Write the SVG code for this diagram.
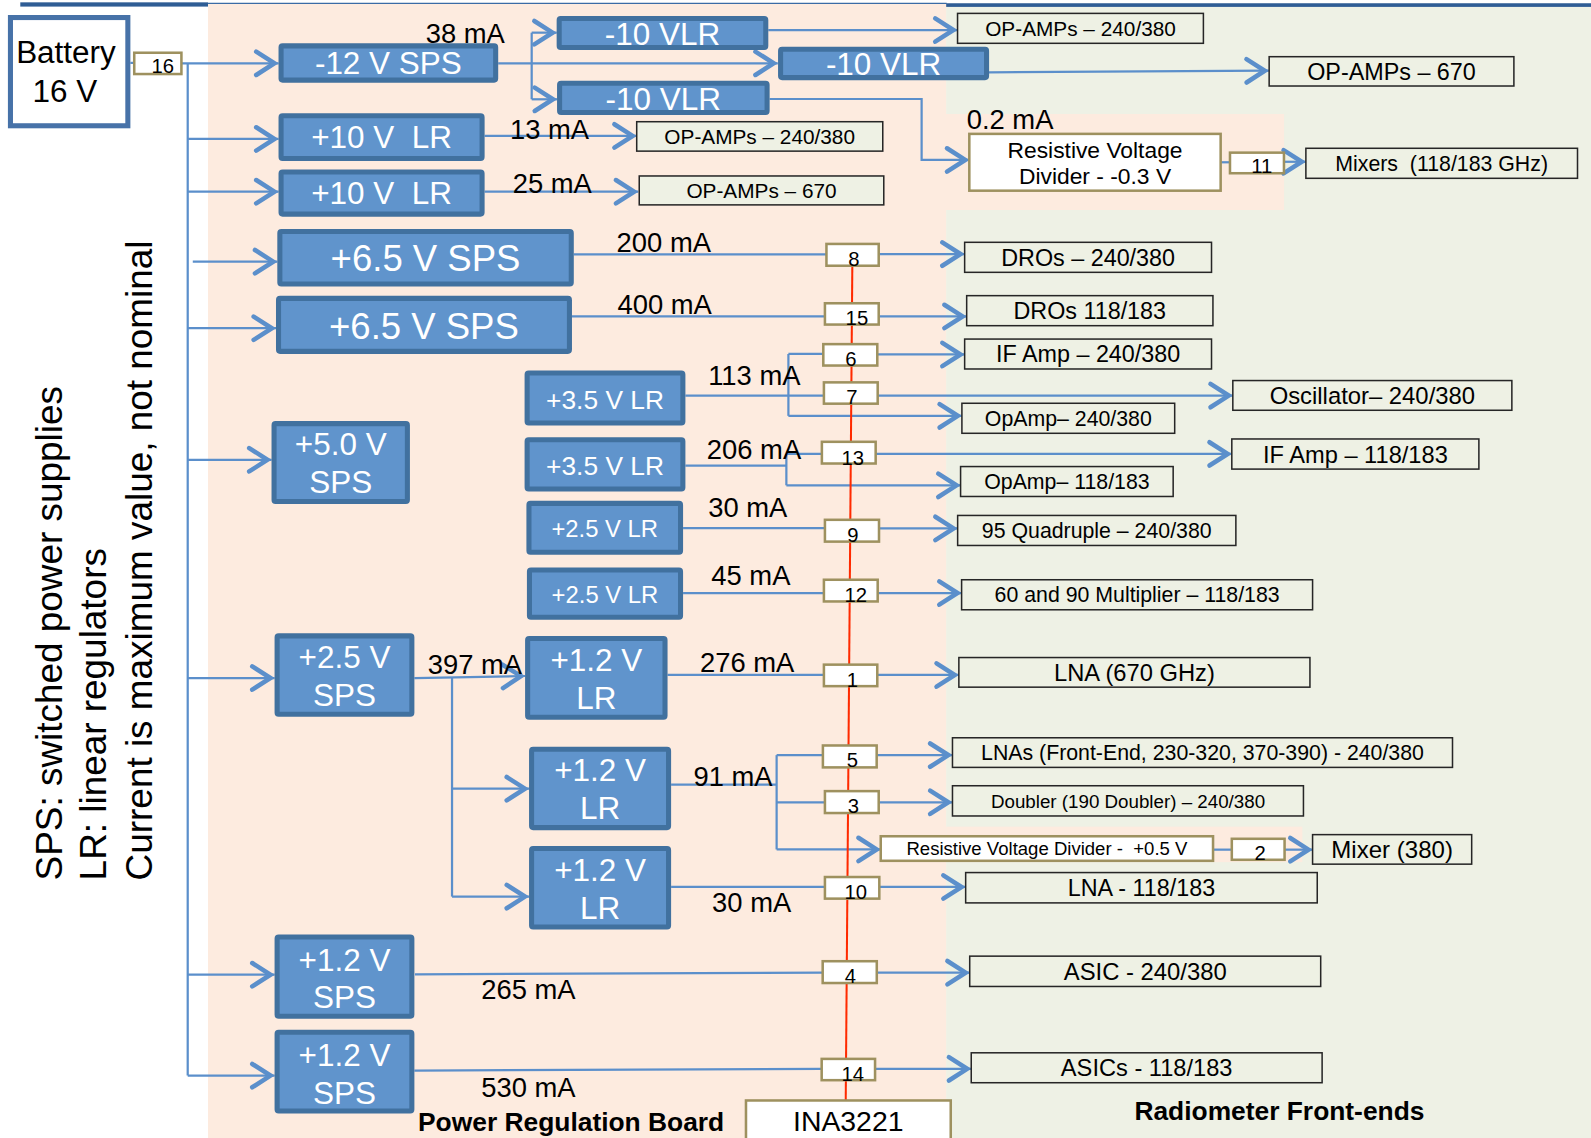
<svg xmlns="http://www.w3.org/2000/svg" width="1591" height="1138" viewBox="0 0 1591 1138">
<defs>
<style>
.bb{fill:#6094CC;stroke:#41719F;stroke-width:5;}
.w{fill:#fff;text-anchor:middle;}
.k{fill:#000;text-anchor:middle;}
.fe{fill:#EEF1E4;stroke:#262626;stroke-width:1.5;}
.tan{fill:#fff;stroke:#9E915F;stroke-width:2.5;}
.n{font-size:20px;fill:#000;text-anchor:middle;}
.m{font-size:27px;fill:#000;}
.c{fill:none;stroke:#5B8FCB;stroke-width:2.2;}
.a{marker-end:url(#ah);}
.pre{white-space:pre;}
</style>
<marker id="ah" markerUnits="userSpaceOnUse" viewBox="-26 -15 30 30" markerWidth="30" markerHeight="30" refX="0" refY="0" orient="auto" overflow="visible">
<path d="M-22,-11.5 L-4,0 L-22,11.5" fill="none" stroke="#5B8FCB" stroke-width="4.5" stroke-linejoin="miter" stroke-linecap="round"/>
</marker>
</defs>
<g transform="scale(1.01467,1.01426)" font-family="'Liberation Sans', Arial, Helvetica, sans-serif">
<g id="background">
<rect x="0" y="0" width="1568" height="1122" fill="#fff"/>
<rect x="205" y="4" width="728" height="1118" fill="#FDEBDF"/>
<rect x="932.5" y="6" width="635.5" height="1116" fill="#EEF1E5"/>
<rect x="932" y="112.4" width="333.5" height="94.6" fill="#FDEBDF"/>
<rect x="932.5" y="815" width="351" height="35" fill="#FDEBDF"/>
<rect x="20" y="2.3" width="185" height="4.2" fill="#2F5D95"/>
<line x1="205" y1="3.3" x2="933" y2="3.3" stroke="#3A6BA5" stroke-width="1.4"/>
<rect x="932.5" y="3.2" width="635.5" height="3.6" fill="#2F5D95"/>
</g>
<g id="connectors">
<path class="c" d="M128.5,62 H132.3"/>
<path class="c a" d="M178.8,62.4 H274.5"/>
<path class="c" d="M185,62.4 V1060.5"/>
<path class="c a" d="M185,137 H274.5"/>
<path class="c a" d="M185,189 H274.5"/>
<path class="c a" d="M190,258 H273.3"/>
<path class="c a" d="M185,323.6 H272"/>
<path class="c a" d="M185,453.3 H267.6"/>
<path class="c a" d="M185,668.5 H270.6"/>
<path class="c a" d="M185,961 H270.6"/>
<path class="c a" d="M185,1060.5 H270.6"/>
<path class="c a" d="M491,62.4 H766.5"/>
<path class="c" d="M524,32.2 V97.9"/>
<path class="c a" d="M524,32.2 H548.6"/>
<path class="c a" d="M524,97.9 H549"/>
<path class="c a" d="M757.2,29.6 H943.7"/>
<path class="c a" d="M974.7,71.3 L1250.5,69.7"/>
<path class="c a" d="M758.5,97.6 H908.3 V157.7 H955.3"/>
<path class="c" d="M1203,160 H1212.2"/>
<path class="c a" d="M1265.4,159.5 H1287"/>
<path class="c a" d="M477.6,134 H627.5"/>
<path class="c a" d="M477.6,189 H629"/>
<path class="c" d="M565.5,250.7 H814.5"/>
<path class="c a" d="M866,250.5 H950.7"/>
<path class="c" d="M563.7,312 H813"/>
<path class="c a" d="M866,312 H952.7"/>
<path class="c" d="M675.5,390 H812"/>
<path class="c a" d="M865,390 H1215"/>
<path class="c" d="M777,349 V410"/>
<path class="c" d="M777,349 H811.4"/>
<path class="c a" d="M864.6,349.5 H950.7"/>
<path class="c a" d="M777,410 H948"/>
<path class="c" d="M675.5,459 H775"/>
<path class="c" d="M775,447.5 V478.5"/>
<path class="c" d="M775,447.5 H810"/>
<path class="c a" d="M863,447.5 H1214"/>
<path class="c a" d="M775,478.5 H946.7"/>
<path class="c" d="M673.2,520.7 H813"/>
<path class="c a" d="M866.3,521 H943.8"/>
<path class="c" d="M673.2,584.7 H812"/>
<path class="c a" d="M865,584.7 H947.7"/>
<path class="c a" d="M408.4,668.5 L517.5,666.5"/>
<path class="c" d="M445.5,668 V884"/>
<path class="c a" d="M445.5,777.6 H521.4"/>
<path class="c a" d="M445.5,884 H521.4"/>
<path class="c" d="M657.9,665.3 H812"/>
<path class="c a" d="M864.6,665.5 H945"/>
<path class="c" d="M661.4,773.6 H765.4"/>
<path class="c" d="M765.4,744.5 V837.5"/>
<path class="c" d="M765.4,744.5 H811"/>
<path class="c a" d="M864,744.5 H938.7"/>
<path class="c" d="M765.4,791 H813"/>
<path class="c a" d="M866,791 H938.7"/>
<path class="c a" d="M765.4,837.5 H868"/>
<path class="c" d="M1195.5,837.7 H1214"/>
<path class="c a" d="M1266,837.7 H1293.6"/>
<path class="c" d="M661.4,874.5 H813.4"/>
<path class="c a" d="M866.6,874.5 H951.7"/>
<path class="c" d="M409,960.6 L810.8,959"/>
<path class="c a" d="M864.1,959 H955.7"/>
<path class="c" d="M408.4,1055.5 L809.8,1053.8"/>
<path class="c a" d="M862.4,1053.8 H957.2"/>
<path d="M840,262 L833.5,1085" fill="none" stroke="#FF2A00" stroke-width="2"/>
</g>
<g id="battery"><rect x="10.3" y="17.3" width="115.7" height="106.7" fill="#fff" stroke="#4772A8" stroke-width="5"/><text class="k" x="65" y="62.4" font-size="31">Battery</text><text class="k" x="64" y="100.2" font-size="31">16 V</text></g>
<g id="sps_m12"><rect class="bb" x="277" y="45.2" width="211.5" height="33.8" rx="1.5"/><text class="w" x="382.7" y="73" font-size="31">-12 V SPS</text></g>
<g id="vlr_1"><rect class="bb" x="551.1" y="18.3" width="203.6" height="28.5" rx="1.5"/><text class="w" x="652.9" y="44.3" font-size="31">-10 VLR</text></g>
<g id="vlr_2"><rect class="bb" x="769.3" y="48.5" width="203" height="28" rx="1.5"/><text class="w" x="870.8" y="73.8" font-size="31">-10 VLR</text></g>
<g id="vlr_3"><rect class="bb" x="551.5" y="82" width="204.5" height="28.9" rx="1.5"/><text class="w" x="653.7" y="108.5" font-size="31">-10 VLR</text></g>
<g id="lr_p10a"><rect class="bb" x="277" y="114.2" width="198.1" height="42" rx="1.5"/><text class="w pre" xml:space="preserve" x="376" y="146.4" font-size="31">+10 V  LR</text></g>
<g id="lr_p10b"><rect class="bb" x="277" y="169.5" width="198.1" height="41.6" rx="1.5"/><text class="w pre" xml:space="preserve" x="376" y="201" font-size="31">+10 V  LR</text></g>
<g id="sps_p65a"><rect class="bb" x="275.8" y="228.2" width="287.2" height="51.8" rx="1.5"/><text class="w" x="419.4" y="267" font-size="36">+6.5 V SPS</text></g>
<g id="sps_p65b"><rect class="bb" x="274.5" y="294.2" width="286.7" height="52.2" rx="1.5"/><text class="w" x="417.8" y="334" font-size="36">+6.5 V SPS</text></g>
<g id="sps_p50"><rect class="bb" x="270.1" y="417.7" width="131.4" height="76.8" rx="1.5"/><text class="w" x="335.8" y="448.6" font-size="31">+5.0 V</text><text class="w" x="335.8" y="486.5" font-size="31">SPS</text></g>
<g id="lr_p35a"><rect class="bb" x="519.5" y="367.8" width="153.5" height="49.2" rx="1.5"/><text class="w" x="596.3" y="403" font-size="26">+3.5 V LR</text></g>
<g id="lr_p35b"><rect class="bb" x="519.5" y="433.5" width="153.5" height="48.6" rx="1.5"/><text class="w" x="596.3" y="468" font-size="26">+3.5 V LR</text></g>
<g id="lr_p25a"><rect class="bb" x="521.3" y="496.3" width="149.4" height="48.2" rx="1.5"/><text class="w" x="596" y="529.5" font-size="23.5">+2.5 V LR</text></g>
<g id="lr_p25b"><rect class="bb" x="521.8" y="562" width="148.9" height="46.5" rx="1.5"/><text class="w" x="596.2" y="595" font-size="23.5">+2.5 V LR</text></g>
<g id="sps_p25"><rect class="bb" x="273.1" y="626.9" width="132.8" height="77.3" rx="1.5"/><text class="w" x="339.5" y="659" font-size="31">+2.5 V</text><text class="w" x="339.5" y="696" font-size="31">SPS</text></g>
<g id="lr_p12a"><rect class="bb" x="520" y="629.6" width="135.4" height="77.6" rx="1.5"/><text class="w" x="587.7" y="662" font-size="31">+1.2 V</text><text class="w" x="587.7" y="699" font-size="31">LR</text></g>
<g id="lr_p12b"><rect class="bb" x="523.9" y="738.7" width="135" height="77.3" rx="1.5"/><text class="w" x="591.4" y="770" font-size="31">+1.2 V</text><text class="w" x="591.4" y="807" font-size="31">LR</text></g>
<g id="lr_p12c"><rect class="bb" x="523.9" y="836.6" width="135" height="77.4" rx="1.5"/><text class="w" x="591.4" y="869" font-size="31">+1.2 V</text><text class="w" x="591.4" y="906" font-size="31">LR</text></g>
<g id="sps_p12a"><rect class="bb" x="273.1" y="923.9" width="132.8" height="78" rx="1.5"/><text class="w" x="339.5" y="957" font-size="31">+1.2 V</text><text class="w" x="339.5" y="994" font-size="31">SPS</text></g>
<g id="sps_p12b"><rect class="bb" x="273.1" y="1017.8" width="132.8" height="77.6" rx="1.5"/><text class="w" x="339.5" y="1051" font-size="31">+1.2 V</text><text class="w" x="339.5" y="1088" font-size="31">SPS</text></g>
<g id="ch16"><rect class="tan" x="132.3" y="52" width="46.5" height="21"/><text class="n" x="160.5" y="72.3">16</text></g>
<g id="ch11"><rect class="tan" x="1212.2" y="150.5" width="53.2" height="20.3"/><text class="n" x="1243.5" y="171">11</text></g>
<g id="ch8"><rect class="tan" x="814.5" y="240.5" width="51.5" height="21.5"/><text class="n" x="841.5" y="262">8</text></g>
<g id="ch15"><rect class="tan" x="813" y="299" width="53" height="21"/><text class="n" x="844.5" y="320.5">15</text></g>
<g id="ch6"><rect class="tan" x="811.4" y="339.3" width="53.2" height="21.1"/><text class="n" x="838.5" y="360.5">6</text></g>
<g id="ch7"><rect class="tan" x="812" y="377" width="53" height="21"/><text class="n" x="839.5" y="398.5">7</text></g>
<g id="ch13"><rect class="tan" x="810" y="435.6" width="53" height="21.4"/><text class="n" x="840.5" y="458">13</text></g>
<g id="ch9"><rect class="tan" x="813" y="512.5" width="53.3" height="21.5"/><text class="n" x="840.5" y="534.5">9</text></g>
<g id="ch12"><rect class="tan" x="812" y="571.6" width="53" height="21.4"/><text class="n" x="843.5" y="593.5">12</text></g>
<g id="ch1"><rect class="tan" x="812" y="655.3" width="52.6" height="21.2"/><text class="n" x="840" y="677">1</text></g>
<g id="ch5"><rect class="tan" x="811" y="735" width="53" height="21.6"/><text class="n" x="840" y="756.5">5</text></g>
<g id="ch3"><rect class="tan" x="813" y="780" width="53" height="21.6"/><text class="n" x="841" y="802">3</text></g>
<g id="ch10"><rect class="tan" x="813" y="864.7" width="53.6" height="21.3"/><text class="n" x="843.5" y="886.5">10</text></g>
<g id="ch4"><rect class="tan" x="810.8" y="947.7" width="53.3" height="21.5"/><text class="n" x="838" y="969.5">4</text></g>
<g id="ch14"><rect class="tan" x="809.8" y="1044" width="52.6" height="21"/><text class="n" x="840.5" y="1065.5">14</text></g>
<g id="ch2"><rect class="tan" x="1214" y="827" width="52" height="20.7"/><text class="n" x="1242" y="848">2</text></g>
<g id="opamps_240_a"><rect class="fe" x="943.7" y="13.2" width="242.3" height="29.5"/><text class="k" x="1064.9" y="35.4" font-size="20.5">OP-AMPs – 240/380</text></g>
<g id="opamps_670_a"><rect class="fe" x="1250.8" y="55.9" width="241.2" height="28.9"/><text class="k" x="1371.4" y="78.6" font-size="23">OP-AMPs – 670</text></g>
<g id="opamps_240_b"><rect class="fe" x="627.5" y="120" width="242.5" height="29"/><text class="k" x="748.7" y="141.8" font-size="20.5">OP-AMPs – 240/380</text></g>
<g id="opamps_670_b"><rect class="fe" x="630" y="173.5" width="241" height="28.5"/><text class="k" x="750.5" y="195" font-size="20.5">OP-AMPs – 670</text></g>
<g id="resdiv_m03"><rect class="tan" x="955.3" y="132" width="247.7" height="56"/><text class="k" x="1079.2" y="155.5" font-size="22.5">Resistive Voltage</text><text class="k" x="1079.2" y="181.5" font-size="22.5">Divider - -0.3 V</text></g>
<g id="mixers_118"><rect class="fe" x="1287" y="146.2" width="267.7" height="29.6"/><text class="k pre" xml:space="preserve" x="1420.8" y="168.3" font-size="21">Mixers  (118/183 GHz)</text></g>
<g id="dros_240"><rect class="fe" x="950.7" y="238.9" width="243.3" height="29.6"/><text class="k" x="1072.4" y="262" font-size="23">DROs – 240/380</text></g>
<g id="dros_118"><rect class="fe" x="952.7" y="291.5" width="242.7" height="29.6"/><text class="k" x="1074" y="314.5" font-size="23">DROs 118/183</text></g>
<g id="ifamp_240"><rect class="fe" x="950.7" y="334.3" width="243.3" height="29.5"/><text class="k" x="1072.4" y="357.3" font-size="23">IF Amp – 240/380</text></g>
<g id="osc_240"><rect class="fe" x="1215" y="375.2" width="275" height="29.3"/><text class="k" x="1352.5" y="398.3" font-size="23.5">Oscillator– 240/380</text></g>
<g id="opamp_240"><rect class="fe" x="948" y="397.6" width="209.7" height="29.6"/><text class="k" x="1052.9" y="419.9" font-size="21">OpAmp– 240/380</text></g>
<g id="ifamp_118"><rect class="fe" x="1214" y="432.8" width="243.5" height="29.7"/><text class="k" x="1335.8" y="456" font-size="23.3">IF Amp – 118/183</text></g>
<g id="opamp_118"><rect class="fe" x="946.7" y="460" width="209.5" height="29.5"/><text class="k" x="1051.5" y="482.3" font-size="21">OpAmp– 118/183</text></g>
<g id="quad_95"><rect class="fe" x="943.8" y="508.2" width="274.2" height="29.6"/><text class="k" x="1080.9" y="530.5" font-size="21">95 Quadruple – 240/380</text></g>
<g id="mult_6090"><rect class="fe" x="947.7" y="571.6" width="345.9" height="29.6"/><text class="k" x="1120.7" y="593.9" font-size="21">60 and 90 Multiplier – 118/183</text></g>
<g id="lna_670"><rect class="fe" x="945" y="648.3" width="346" height="29.2"/><text class="k" x="1118" y="671.3" font-size="23.4">LNA (670 GHz)</text></g>
<g id="lnas_240"><rect class="fe" x="938.7" y="727.4" width="492.8" height="29.2"/><text class="k" x="1185.1" y="749.5" font-size="21">LNAs (Front-End, 230-320, 370-390) - 240/380</text></g>
<g id="doubler_240"><rect class="fe" x="938.7" y="774.7" width="345.9" height="29.8"/><text class="k" x="1111.7" y="796.2" font-size="18.5">Doubler (190 Doubler) – 240/380</text></g>
<g id="resdiv_p05"><rect class="tan" x="868" y="824.5" width="327.5" height="24.2"/><text class="k pre" xml:space="preserve" x="1031.8" y="843" font-size="18.3">Resistive Voltage Divider -  +0.5 V</text></g>
<g id="mixer_380"><rect class="fe" x="1293.6" y="822.9" width="156.8" height="29.1"/><text class="k" x="1372" y="846" font-size="23.7">Mixer (380)</text></g>
<g id="lna_118"><rect class="fe" x="951.7" y="860.3" width="346.5" height="29.9"/><text class="k" x="1125" y="883.5" font-size="23">LNA - 118/183</text></g>
<g id="asic_240"><rect class="fe" x="955.7" y="942.7" width="345.9" height="29.9"/><text class="k" x="1128.7" y="966" font-size="23.5">ASIC - 240/380</text></g>
<g id="asics_118"><rect class="fe" x="957.2" y="1038" width="345.8" height="29.5"/><text class="k" x="1130.1" y="1061" font-size="23.3">ASICs - 118/183</text></g>
<g id="ina3221"><rect class="tan" x="735.2" y="1085" width="201.8" height="50"/><text class="k" x="836" y="1115.3" font-size="28">INA3221</text></g>
<g id="current_labels">
<text class="m" x="419.5" y="42">38 mA</text>
<text class="m" x="502.6" y="137">13 mA</text>
<text class="m" x="505.3" y="190">25 mA</text>
<text class="m" x="952.7" y="127.5">0.2 mA</text>
<text class="m" x="607.7" y="248.7">200 mA</text>
<text class="m" x="608.6" y="309.8">400 mA</text>
<text class="m" x="697.9" y="380">113 mA</text>
<text class="m" x="696.6" y="452.4">206 mA</text>
<text class="m" x="698" y="510.2">30 mA</text>
<text class="m" x="701" y="577.2">45 mA</text>
<text class="m" x="421.6" y="664.3">397 mA</text>
<text class="m" x="689.9" y="662.6">276 mA</text>
<text class="m" x="683.4" y="775.4">91 mA</text>
<text class="m" x="701.8" y="899.5">30 mA</text>
<text class="m" x="474.3" y="984.5">265 mA</text>
<text class="m" x="474.3" y="1081.8">530 mA</text>
</g>
<g id="titles">
<text x="412" y="1115.5" font-size="26" font-weight="bold" fill="#000">Power Regulation Board</text>
<text x="1118" y="1104.5" font-size="26" font-weight="bold" fill="#000">Radiometer Front-ends</text>
</g>
<g id="legend" font-size="36.4" fill="#000">
<text transform="translate(60.8,868) rotate(-90)">SPS: switched power supplies</text>
<text transform="translate(104.5,868) rotate(-90)">LR: linear regulators</text>
<text transform="translate(149.5,868) rotate(-90)">Current is maximum value, not nominal</text>
</g>
</g>
</svg>
